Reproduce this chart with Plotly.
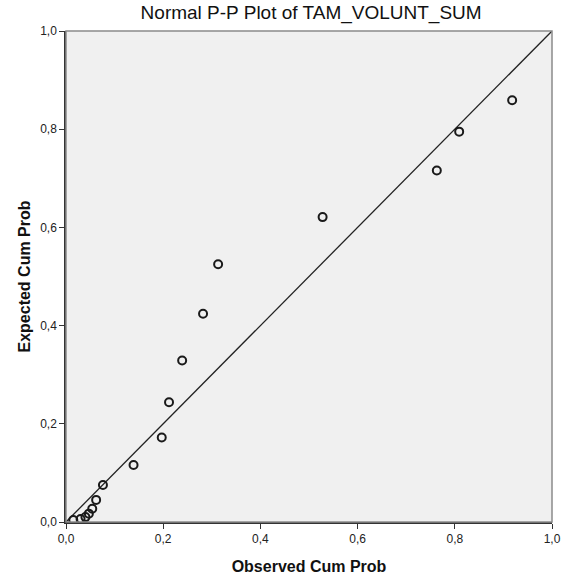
import plotly.graph_objects as go

observed = [0.015, 0.030, 0.040, 0.047, 0.054, 0.062, 0.076, 0.139, 0.197, 0.212, 0.239, 0.282, 0.313, 0.528, 0.763, 0.809, 0.918]
expected = [0.004, 0.006, 0.010, 0.017, 0.027, 0.045, 0.0755, 0.116, 0.172, 0.244, 0.329, 0.424, 0.525, 0.621, 0.716, 0.795, 0.859]
tick_vals = [0.0, 0.2, 0.4, 0.6, 0.8, 1.0]

fig = go.Figure()
fig.add_trace(go.Scatter(x=[0, 1], y=[0, 1], mode="lines",
                         line=dict(color="#222222", width=1.3), hoverinfo="skip", showlegend=False))
fig.add_trace(go.Scatter(x=observed, y=expected, mode="markers",
                         marker=dict(symbol="circle-open", size=8, color="#1a1a1a", line=dict(width=2)),
                         showlegend=False))

fig.add_shape(type="rect", xref="x domain", yref="y domain", x0=0, y0=0, x1=1, y1=1,
              line=dict(color="#8a8a8a", width=1.5), layer="above")

axis_common = dict(range=[0, 1], tickvals=tick_vals, tickformat=".1f", ticks="outside", ticklen=5,
                   tickcolor="#333333", showgrid=False, zeroline=False, showline=True,
                   linecolor="#333333", linewidth=1.5, tickfont=dict(family="Liberation Sans, Arial", size=12, color="#222"))

fig.update_xaxes(**axis_common, title=dict(text="<b>Observed Cum Prob</b>", font=dict(family="Liberation Sans, Arial", size=16, color="#111"), standoff=16))
fig.update_yaxes(**axis_common, title=dict(text="<b>Expected Cum Prob</b>", font=dict(family="Liberation Sans, Arial", size=16, color="#111"), standoff=6))

fig.update_layout(
    width=573, height=588,
    margin=dict(l=66, r=18, t=31, b=66),
    plot_bgcolor="#f0f0f0", paper_bgcolor="white",
    separators=", ",
    title=dict(text="Normal P-P Plot of TAM_VOLUNT_SUM", x=0.543, xanchor="center", y=0.979, yanchor="middle",
               font=dict(family="Liberation Sans, Arial", size=19, color="#111")),
)

fig.write_html("out.html")
